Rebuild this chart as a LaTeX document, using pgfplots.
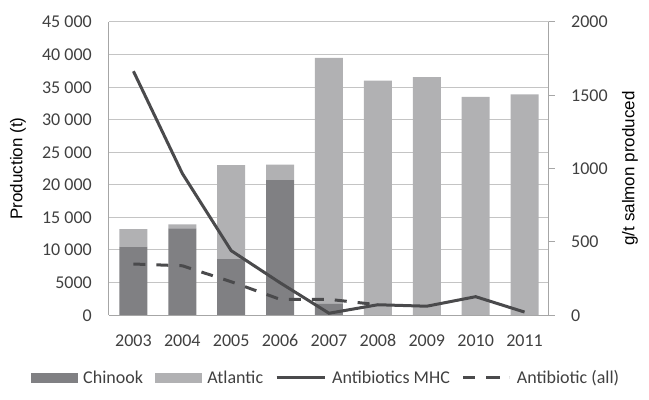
\documentclass[border=0pt]{standalone}
\usepackage{pgfplots}
\pgfplotsset{compat=1.18}
\usepackage{fontspec}
\setmainfont{Carlito}
\newfontfamily\arial{Liberation Sans}
\definecolor{chinook}{HTML}{808083}
\definecolor{atlantic}{HTML}{B1B1B3}
\definecolor{lin}{HTML}{4A4A4C}
\definecolor{txt}{HTML}{404040}
\definecolor{gridc}{HTML}{C4C4C4}
\definecolor{axc}{HTML}{A6A6A6}
\pgfplotsset{
  lineleg/.style={legend image code/.code={\draw[##1] (0bp,0bp) -- (48bp,0bp);}},
  dashleg/.style={legend image code/.code={\draw[##1, dash pattern=on 12bp off 13bp] (0bp,0bp) -- (37bp,0bp); \path (0bp,0bp) -- (46bp,0bp);}},
  chinleg/.style={legend image code/.code={\fill[chinook] (0bp,-4.5bp) rectangle (46bp,4.5bp);}},
  atlleg/.style={legend image code/.code={\fill[atlantic] (0bp,-4.5bp) rectangle (46bp,4.5bp);}},
}
\begin{document}
\begin{tikzpicture}
\useasboundingbox (-109bp,-85bp) rectangle (540bp,315bp);
\begin{axis}[
  at={(0,0)}, anchor=south west,
  scale only axis, width=440bp, height=293bp,
  ybar stacked, bar width=28bp,
  xmin=-0.5, xmax=8.5, ymin=0, ymax=45000,
  scaled y ticks=false,
  xtick={0,1,2,3,4,5,6,7,8},
  xticklabels={2003,2004,2005,2006,2007,2008,2009,2010,2011},
  ytick={0,5000,10000,15000,20000,25000,30000,35000,40000,45000},
  yticklabels={0,5000,10 000,15 000,20 000,25 000,30 000,35 000,40 000,45 000},
  axis x line*=bottom, axis y line*=left,
  axis line style={draw=axc, line width=1bp, -},
  ymajorgrids, grid style={draw=gridc, line width=1bp},
  major tick length=0pt,
  tick style={draw=none},
  ticklabel style={font=\fontsize{18bp}{21bp}\selectfont, text=txt},
  typeset ticklabels with strut,
  xticklabel style={anchor=base, yshift=-31bp, inner sep=0pt},
  yticklabel style={anchor=base east, yshift=-6bp, xshift=-17bp, inner sep=0pt},
  ylabel={Production (t)},
  ylabel style={at={(axis description cs:-0.2068,0.5)}, anchor=center, font=\arial\fontsize{17bp}{20bp}\selectfont, text=black},
]
\addplot[fill=chinook, draw=none] coordinates {(0,10500) (1,13300) (2,8600) (3,20700) (4,1700) (5,0) (6,0) (7,0) (8,0)};
\addplot[fill=atlantic, draw=none] coordinates {(0,2700) (1,600) (2,14400) (3,2400) (4,37800) (5,36000) (6,36550) (7,33500) (8,33900)};
\end{axis}
\begin{axis}[
  at={(0,0)}, anchor=south west,
  scale only axis, width=440bp, height=293bp,
  xmin=-0.5, xmax=8.5, ymin=0, ymax=2000,
  scaled y ticks=false,
  axis x line=none, axis y line*=right,
  axis line style={draw=axc, line width=1bp, -},
  ytick={0,500,1000,1500,2000},
  yticklabels={0,500,1000,1500,2000},
  tick align=outside, major tick length=6bp,
  ytick style={draw=axc, line width=1bp},
  yticklabel style={font=\fontsize{18bp}{21bp}\selectfont, text=txt, anchor=base west, yshift=-6bp, xshift=16bp, inner sep=0pt},
  ylabel={g/t salmon produced},
  ylabel style={at={(axis description cs:1.184,0.5)}, anchor=center, font=\arial\fontsize{17bp}{20bp}\selectfont, text=black},
  legend columns=4,
  legend style={draw=none, fill=none, inner sep=0pt,
    at={(axis description cs:0.491,-0.215)}, anchor=center,
    font=\fontsize{18bp}{21bp}\selectfont, text=txt,
    nodes={inner sep=0pt, anchor=west},
    /tikz/every odd column/.append style={column sep=6bp},
    /tikz/every even column/.append style={column sep=12bp}},
]
\addlegendimage{chinleg}
\addlegendentry{Chinook}
\addlegendimage{atlleg}
\addlegendentry{Atlantic}
\addplot[lin, line width=3bp, lineleg] coordinates {(0,1664) (1,966) (2,439) (3,220) (4,12) (5,70) (6,60) (7,125) (8,20)};
\addlegendentry{Antibiotics MHC}
\addplot[lin, line width=3bp, dash pattern=on 12bp off 11bp, dashleg] coordinates {(0,348) (1,336) (2,227) (3,107) (4,107) (5,70)};
\addlegendentry{Antibiotic (all)}
\end{axis}
\end{tikzpicture}
\end{document}
